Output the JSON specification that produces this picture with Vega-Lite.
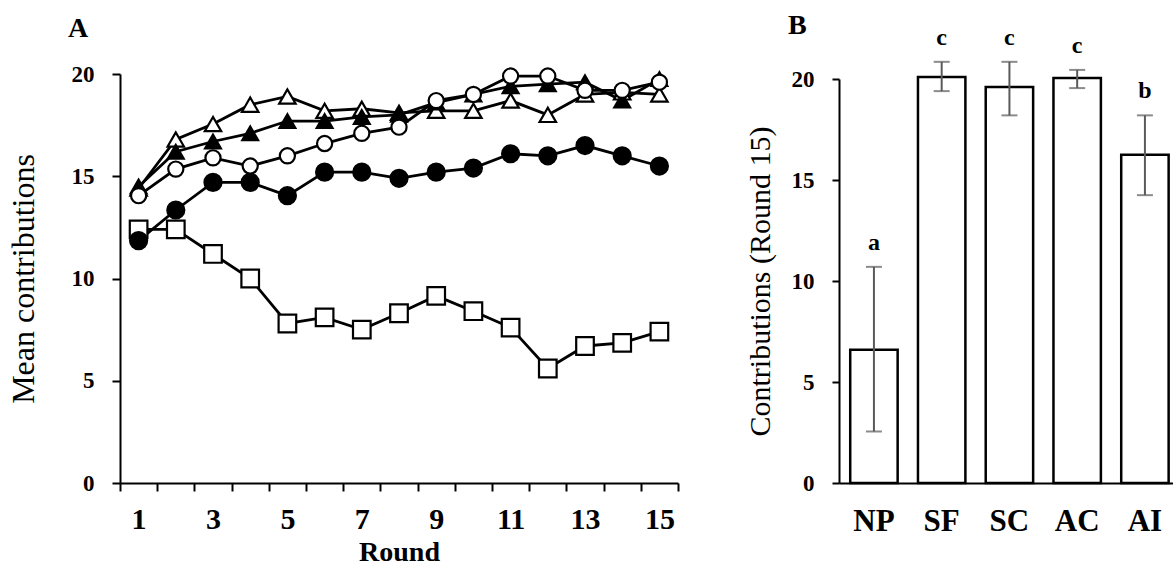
{
  "$schema": "https://vega.github.io/schema/vega-lite/v6.json",
  "background": "white",
  "padding": {"left": 7, "top": 11, "right": 0, "bottom": 0},
  "bounds": "flush",
  "spacing": 161,
  "config": {
    "font": "Liberation Serif",
    "view": {"stroke": null},
    "axis": {"domainColor": "black", "tickColor": "black", "labelColor": "black", "titleColor": "black", "grid": false, "labelFont": "Liberation Serif", "titleFont": "Liberation Serif", "domainWidth": 2, "tickWidth": 2}
  },
  "hconcat": [
    {
      "width": 558,
      "height": 409,
      "title": {"text": "A", "anchor": "start", "frame": "group", "fontSize": 28, "fontWeight": "bold", "font": "Liberation Serif", "color": "black", "dx": -52, "dy": -4, "offset": 16},
      "data": {"values": [
        {"round": 1, "series": "NP", "value": 12.4}, {"round": 2, "series": "NP", "value": 12.4}, {"round": 3, "series": "NP", "value": 11.2}, {"round": 4, "series": "NP", "value": 10.0}, {"round": 5, "series": "NP", "value": 7.8}, {"round": 6, "series": "NP", "value": 8.1}, {"round": 7, "series": "NP", "value": 7.5}, {"round": 8, "series": "NP", "value": 8.3}, {"round": 9, "series": "NP", "value": 9.15}, {"round": 10, "series": "NP", "value": 8.4}, {"round": 11, "series": "NP", "value": 7.6}, {"round": 12, "series": "NP", "value": 5.6}, {"round": 13, "series": "NP", "value": 6.7}, {"round": 14, "series": "NP", "value": 6.85}, {"round": 15, "series": "NP", "value": 7.4},
        {"round": 1, "series": "AI", "value": 11.85}, {"round": 2, "series": "AI", "value": 13.35}, {"round": 3, "series": "AI", "value": 14.7}, {"round": 4, "series": "AI", "value": 14.7}, {"round": 5, "series": "AI", "value": 14.05}, {"round": 6, "series": "AI", "value": 15.2}, {"round": 7, "series": "AI", "value": 15.2}, {"round": 8, "series": "AI", "value": 14.9}, {"round": 9, "series": "AI", "value": 15.2}, {"round": 10, "series": "AI", "value": 15.4}, {"round": 11, "series": "AI", "value": 16.1}, {"round": 12, "series": "AI", "value": 16.0}, {"round": 13, "series": "AI", "value": 16.5}, {"round": 14, "series": "AI", "value": 16.0}, {"round": 15, "series": "AI", "value": 15.5},
        {"round": 1, "series": "SF", "value": 14.4}, {"round": 2, "series": "SF", "value": 16.8}, {"round": 3, "series": "SF", "value": 17.55}, {"round": 4, "series": "SF", "value": 18.5}, {"round": 5, "series": "SF", "value": 18.9}, {"round": 6, "series": "SF", "value": 18.2}, {"round": 7, "series": "SF", "value": 18.3}, {"round": 8, "series": "SF", "value": 18.1}, {"round": 9, "series": "SF", "value": 18.2}, {"round": 10, "series": "SF", "value": 18.2}, {"round": 11, "series": "SF", "value": 18.7}, {"round": 12, "series": "SF", "value": 18.0}, {"round": 13, "series": "SF", "value": 19.0}, {"round": 14, "series": "SF", "value": 19.1}, {"round": 15, "series": "SF", "value": 19.0},
        {"round": 1, "series": "SC", "value": 14.5}, {"round": 2, "series": "SC", "value": 16.2}, {"round": 3, "series": "SC", "value": 16.7}, {"round": 4, "series": "SC", "value": 17.1}, {"round": 5, "series": "SC", "value": 17.7}, {"round": 6, "series": "SC", "value": 17.7}, {"round": 7, "series": "SC", "value": 17.9}, {"round": 8, "series": "SC", "value": 18.0}, {"round": 9, "series": "SC", "value": 18.6}, {"round": 10, "series": "SC", "value": 19.0}, {"round": 11, "series": "SC", "value": 19.4}, {"round": 12, "series": "SC", "value": 19.5}, {"round": 13, "series": "SC", "value": 19.6}, {"round": 14, "series": "SC", "value": 18.7}, {"round": 15, "series": "SC", "value": 19.75},
        {"round": 1, "series": "AC", "value": 14.05}, {"round": 2, "series": "AC", "value": 15.35}, {"round": 3, "series": "AC", "value": 15.9}, {"round": 4, "series": "AC", "value": 15.5}, {"round": 5, "series": "AC", "value": 16.0}, {"round": 6, "series": "AC", "value": 16.6}, {"round": 7, "series": "AC", "value": 17.1}, {"round": 8, "series": "AC", "value": 17.4}, {"round": 9, "series": "AC", "value": 18.7}, {"round": 10, "series": "AC", "value": 19.0}, {"round": 11, "series": "AC", "value": 19.9}, {"round": 12, "series": "AC", "value": 19.9}, {"round": 13, "series": "AC", "value": 19.2}, {"round": 14, "series": "AC", "value": 19.2}, {"round": 15, "series": "AC", "value": 19.6}
      ]},
      "encoding": {
        "x": {
          "field": "round", "type": "ordinal", "bandPosition": 0.5,
          "scale": {"type": "band", "paddingInner": 0, "paddingOuter": 0},
          "axis": {"title": "Round", "labelAngle": 0, "tickBand": "extent", "tickSize": 8, "labelOverlap": false, "labelExpr": "datum.value % 2 == 1 ? datum.label : ''", "labelFontSize": 30, "labelFontWeight": "bold", "labelPadding": 13, "titleFontSize": 28, "titleFontWeight": "bold", "titlePadding": 4}
        },
        "y": {
          "field": "value", "type": "quantitative",
          "scale": {"domain": [0, 20], "nice": false},
          "axis": {"title": "Mean contributions", "values": [0, 5, 10, 15, 20], "tickSize": 8, "labelFontSize": 23, "labelFontWeight": "bold", "labelPadding": 18, "titleFontSize": 32, "titleFontWeight": "normal", "titlePadding": 31}
        }
      },
      "layer": [
        {"mark": {"type": "line", "color": "black", "strokeWidth": 2.8}, "encoding": {"detail": {"field": "series"}}},
        {
          "mark": {"type": "point", "filled": true, "stroke": "black", "strokeWidth": 2.2, "opacity": 1},
          "encoding": {
            "shape": {"field": "series", "scale": {"domain": ["NP", "AI", "SF", "SC", "AC"], "range": ["square", "circle", "triangle-up", "triangle-up", "circle"]}, "legend": null},
            "fill": {"field": "series", "scale": {"domain": ["NP", "AI", "SF", "SC", "AC"], "range": ["white", "black", "white", "black", "white"]}, "legend": null},
            "size": {"field": "series", "scale": {"domain": ["NP", "AI", "SF", "SC", "AC"], "range": [310, 230, 290, 290, 230]}, "legend": null}
          }
        }
      ]
    },
    {
      "bounds": "flush",
      "spacing": 0,
      "vconcat": [
        {"width": 334, "height": 5, "data": {"values": []}, "mark": "point", "encoding": {}},
        {
          "width": 334,
          "height": 404,
          "title": {"text": "B", "anchor": "start", "frame": "group", "fontSize": 28, "fontWeight": "bold", "font": "Liberation Serif", "color": "black", "dx": -51, "dy": 30, "offset": 16},
          "data": {"values": [
            {"group": "NP", "mean": 6.6, "lower": 2.55, "upper": 10.7, "letter": "a"},
            {"group": "SF", "mean": 20.1, "lower": 19.4, "upper": 20.85, "letter": "c"},
            {"group": "SC", "mean": 19.6, "lower": 18.2, "upper": 20.85, "letter": "c"},
            {"group": "AC", "mean": 20.05, "lower": 19.55, "upper": 20.45, "letter": "c"},
            {"group": "AI", "mean": 16.25, "lower": 14.25, "upper": 18.2, "letter": "b"}
          ]},
          "encoding": {
            "x": {
              "field": "group", "type": "nominal", "sort": null,
              "scale": {"paddingInner": 0.3, "paddingOuter": 0.115, "align": 0.72},
              "axis": {"title": null, "labelAngle": 0, "ticks": false, "labelFontSize": 31, "labelFontWeight": "bold", "labelPadding": 23}
            }
          },
          "layer": [
            {
              "mark": {"type": "bar", "fill": "white", "stroke": "black", "strokeWidth": 2.5},
              "encoding": {
                "y": {"field": "mean", "type": "quantitative", "scale": {"domain": [0, 20], "nice": false},
                  "axis": {"title": "Contributions (Round 15)", "values": [0, 5, 10, 15, 20], "tickSize": 7, "labelFontSize": 23, "labelFontWeight": "bold", "labelPadding": 18, "titleFontSize": 30, "titleFontWeight": "normal", "titlePadding": 16}}
              }
            },
            {"mark": {"type": "rule", "color": "#5a5a5a", "strokeWidth": 2}, "encoding": {"y": {"field": "lower", "type": "quantitative"}, "y2": {"field": "upper"}}},
            {"mark": {"type": "tick", "color": "#5a5a5a", "thickness": 2, "size": 16}, "encoding": {"y": {"field": "lower", "type": "quantitative"}}},
            {"mark": {"type": "tick", "color": "#5a5a5a", "thickness": 2, "size": 16}, "encoding": {"y": {"field": "upper", "type": "quantitative"}}},
            {"mark": {"type": "text", "fontSize": 24, "fontWeight": "bold", "dy": -24, "baseline": "middle", "color": "black"}, "encoding": {"y": {"field": "upper", "type": "quantitative"}, "text": {"field": "letter"}}}
          ]
        }
      ]
    }
  ]
}
